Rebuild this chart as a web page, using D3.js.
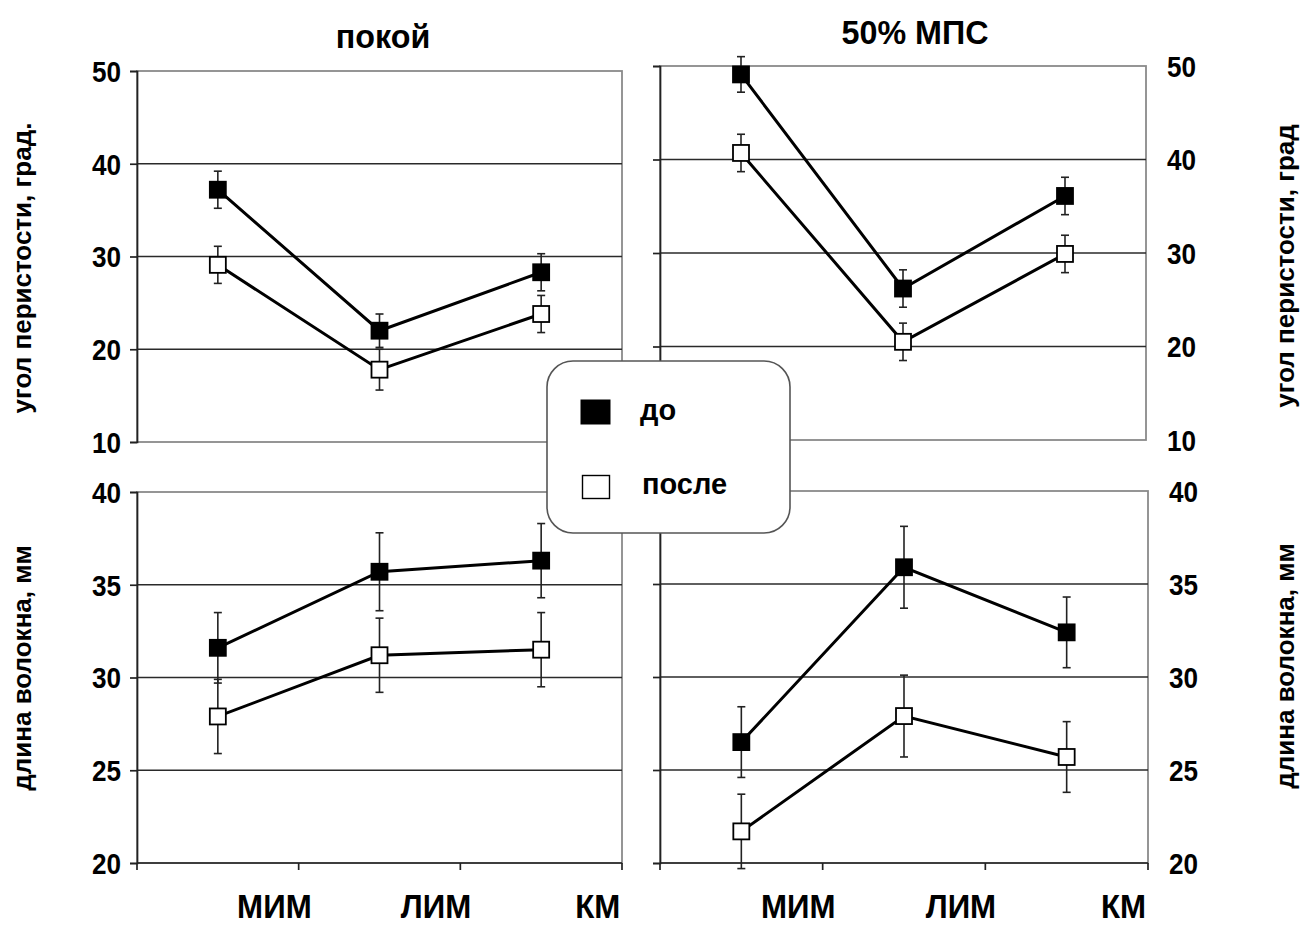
<!DOCTYPE html>
<html>
<head>
<meta charset="utf-8">
<script src="https://cdn.jsdelivr.net/npm/d3@7"></script>
<style>
  html, body { margin: 0; padding: 0; background: #fff; }
  svg text { font-family: "Liberation Sans", Arial, sans-serif; font-weight: bold; fill: #000; }
</style>
</head>
<body>
<svg id="chart" width="1302" height="926"></svg>
<script>
// Muscles compared
const categories = ["МИМ", "ЛИМ", "КМ"];

// Pennation angle, degrees — at rest
const angleRestBefore    = [37.2, 22.0, 28.3];
const angleRestBeforeErr = [2.0, 1.8, 2.0];
const angleRestAfter     = [29.1, 17.8, 23.8];
const angleRestAfterErr  = [2.0, 2.2, 2.0];

// Pennation angle, degrees — at 50% MVC
const angleLoadBefore    = [49.1, 26.2, 36.1];
const angleLoadBeforeErr = [1.9, 2.0, 2.0];
const angleLoadAfter     = [40.7, 20.5, 29.9];
const angleLoadAfterErr  = [2.0, 2.0, 2.0];

// Fibre length, mm — at rest
const lengthRestBefore    = [31.6, 35.7, 36.3];
const lengthRestBeforeErr = [1.9, 2.1, 2.0];
const lengthRestAfter     = [27.9, 31.2, 31.5];
const lengthRestAfterErr  = [2.0, 2.0, 2.0];

// Fibre length, mm — at 50% MVC
const lengthLoadBefore    = [26.5, 35.9, 32.4];
const lengthLoadBeforeErr = [1.9, 2.2, 1.9];
const lengthLoadAfter     = [21.7, 27.9, 25.7];
const lengthLoadAfterErr  = [2.0, 2.2, 1.9];

const angleTicks  = [10, 20, 30, 40, 50];
const lengthTicks = [20, 25, 30, 35, 40];

const titles = ["покой", "50% МПС"];
const angleTitleLeft  = "угол перистости, град.";
const angleTitleRight = "угол перистости, град";
const lengthTitle = "длина волокна, мм";
const seriesNames = ["до", "после"];

const svg = d3.select("#chart");

// squeeze a text element horizontally around its anchor point
const squeeze = (sx, ax, ay) => `translate(${ax},${ay}) scale(${sx},1) translate(${-ax},${-ay})`;

// Panel frames: [left, right, top, bottom]
const panels = [
  { box: [137, 622, 71, 442],  ticks: angleTicks,  side: "left",
    before: angleRestBefore, beforeErr: angleRestBeforeErr, after: angleRestAfter, afterErr: angleRestAfterErr, xAxis: false },
  { box: [660, 1146, 66, 440], ticks: angleTicks,  side: "right",
    before: angleLoadBefore, beforeErr: angleLoadBeforeErr, after: angleLoadAfter, afterErr: angleLoadAfterErr, xAxis: false },
  { box: [137, 622, 492, 863], ticks: lengthTicks, side: "left",
    before: lengthRestBefore, beforeErr: lengthRestBeforeErr, after: lengthRestAfter, afterErr: lengthRestAfterErr, xAxis: true },
  { box: [660, 1148, 491, 863], ticks: lengthTicks, side: "right",
    before: lengthLoadBefore, beforeErr: lengthLoadBeforeErr, after: lengthLoadAfter, afterErr: lengthLoadAfterErr, xAxis: true }
];

panels.forEach(p => {
  const [x0, x1, y0, y1] = p.box;
  const x = d3.scaleBand().domain(categories).range([x0, x1]);
  const y = d3.scaleLinear().domain(d3.extent(p.ticks)).range([y1, y0]);
  const g = svg.append("g");

  // frame
  g.append("rect").attr("x", x0).attr("y", y0).attr("width", x1 - x0).attr("height", y1 - y0)
    .attr("fill", "none").attr("stroke", "#8a8a8a").attr("stroke-width", 1.8);

  // horizontal gridlines
  g.selectAll(".grid").data(p.ticks.slice(1, -1)).join("line")
    .attr("x1", x0).attr("x2", x1)
    .attr("y1", d => y(d)).attr("y2", d => y(d))
    .attr("stroke", "#2a2a2a").attr("stroke-width", 1.7);

  // value axis line on the left of each panel
  const yAxis = d3.axisLeft(y).tickValues(p.ticks).tickSize(7).tickFormat("");
  const ya = g.append("g").attr("transform", `translate(${x0},0)`).call(yAxis);
  ya.select(".domain").attr("stroke", "#222").attr("stroke-width", 1.7);
  ya.selectAll(".tick line").attr("stroke", "#222").attr("stroke-width", 1.7);

  // tick labels
  const lx = p.side === "left" ? x0 - 16 : x1 + 21;
  g.selectAll(".yl").data(p.ticks).join("text")
    .attr("x", lx).attr("y", d => y(d)).attr("dy", "0.36em")
    .attr("text-anchor", p.side === "left" ? "end" : "start")
    .style("font-size", "30px")
    .attr("transform", d => squeeze(0.87, lx, y(d)))
    .text(d => d);

  // category axis
  if (p.xAxis) {
    const xa = g.append("g").attr("transform", `translate(0,${y1})`);
    xa.append("line").attr("x1", x0).attr("x2", x1).attr("y1", 0).attr("y2", 0)
      .attr("stroke", "#222").attr("stroke-width", 1.7);
    // ticks sit on the band boundaries
    const bounds = [x0].concat(categories.map(c => x(c) + x.bandwidth()));
    xa.selectAll(".bt").data(bounds).join("line")
      .attr("x1", d => d).attr("x2", d => d).attr("y1", 0).attr("y2", 7)
      .attr("stroke", "#222").attr("stroke-width", 1.7);

    const labelX = c => x(c) + x.bandwidth() * 0.85;
    g.selectAll(".xl").data(categories).join("text")
      .attr("x", labelX).attr("y", y1 + 55)
      .attr("text-anchor", "middle").style("font-size", "34px")
      .attr("transform", c => squeeze(0.92, labelX(c), 0))
      .text(c => c);
  }

  const cx = c => x(c) + x.bandwidth() / 2;
  const series = [
    { vals: p.before, errs: p.beforeErr, fill: "#000" },
    { vals: p.after,  errs: p.afterErr,  fill: "#fff" }
  ];

  series.forEach(s => {
    const pts = categories.map((c, i) => ({ c, v: s.vals[i], e: s.errs[i] }));

    // error bars
    const eb = g.append("g").attr("stroke", "#222").attr("stroke-width", 1.6);
    eb.selectAll(".v").data(pts).join("line")
      .attr("x1", d => cx(d.c)).attr("x2", d => cx(d.c))
      .attr("y1", d => y(d.v - d.e)).attr("y2", d => y(d.v + d.e));
    eb.selectAll(".t").data(pts).join("line")
      .attr("x1", d => cx(d.c) - 4).attr("x2", d => cx(d.c) + 4)
      .attr("y1", d => y(d.v + d.e)).attr("y2", d => y(d.v + d.e));
    eb.selectAll(".b").data(pts).join("line")
      .attr("x1", d => cx(d.c) - 4).attr("x2", d => cx(d.c) + 4)
      .attr("y1", d => y(d.v - d.e)).attr("y2", d => y(d.v - d.e));

    // connecting line
    g.append("path").datum(pts)
      .attr("d", d3.line().x(d => cx(d.c)).y(d => y(d.v)))
      .attr("fill", "none").attr("stroke", "#000").attr("stroke-width", 3);

    // markers
    g.selectAll(null).data(pts).join("rect")
      .attr("x", d => cx(d.c) - 8).attr("y", d => y(d.v) - 8)
      .attr("width", 16).attr("height", 16)
      .attr("fill", s.fill).attr("stroke", "#000").attr("stroke-width", 1.8);
  });
});

// panel titles
svg.append("text").attr("x", 383).attr("y", 48).attr("text-anchor", "middle")
  .style("font-size", "34px").attr("transform", squeeze(0.95, 383, 48)).text(titles[0]);
svg.append("text").attr("x", 915).attr("y", 44).attr("text-anchor", "middle")
  .style("font-size", "34px").attr("transform", squeeze(0.95, 915, 44)).text(titles[1]);

// axis titles
const axisTitle = (tx, ty, label) =>
  svg.append("text").attr("transform", `translate(${tx},${ty}) rotate(-90)`)
    .attr("text-anchor", "middle").style("font-size", "26px").text(label);
axisTitle(31, 268, angleTitleLeft);
axisTitle(1294, 266, angleTitleRight);
axisTitle(31, 668, lengthTitle);
axisTitle(1294, 666, lengthTitle);

// legend
const lg = svg.append("g");
lg.append("rect").attr("x", 547).attr("y", 361).attr("width", 243).attr("height", 172)
  .attr("rx", 26).attr("ry", 26)
  .attr("fill", "#fff").attr("stroke", "#555").attr("stroke-width", 1.6);
lg.append("rect").attr("x", 581).attr("y", 400).attr("width", 29).attr("height", 24)
  .attr("fill", "#000").attr("stroke", "#000").attr("stroke-width", 1);
lg.append("rect").attr("x", 582.5).attr("y", 475.5).attr("width", 27).attr("height", 23)
  .attr("fill", "#fff").attr("stroke", "#000").attr("stroke-width", 1.4);
lg.append("text").attr("x", 640).attr("y", 420).style("font-size", "29px").text(seriesNames[0]);
lg.append("text").attr("x", 642).attr("y", 494).style("font-size", "29px").text(seriesNames[1]);
</script>
</body>
</html>
